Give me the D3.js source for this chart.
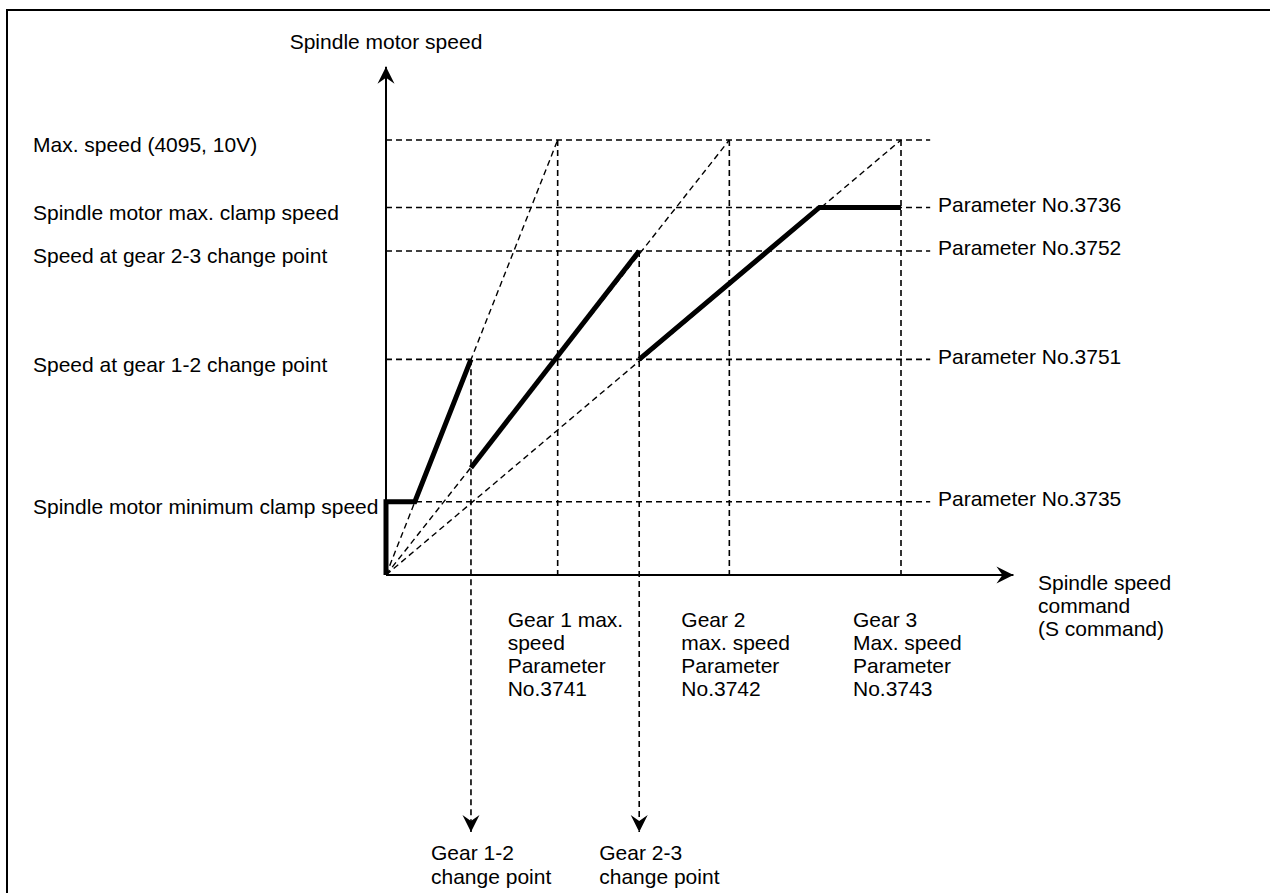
<!DOCTYPE html>
<html>
<head>
<meta charset="utf-8">
<script src="https://cdn.jsdelivr.net/npm/d3@7"></script>
<style>
  body { margin: 0; background: #fff; }
  text { font-family: "Liberation Sans", Arial, sans-serif; font-size: 21px; fill: #000; }
</style>
</head>
<body>
<div id="chart"></div>
<script>
// speed levels on the vertical axis (motor speed, 4095 = 10V)
var levelNames = ["Max. speed (4095, 10V)", "Spindle motor max. clamp speed", "Speed at gear 2-3 change point",
  "Speed at gear 1-2 change point", "Spindle motor minimum clamp speed"];
var levelValues = [4095, 3460, 3050, 2030, 690];
var levelParams = ["", "Parameter No.3736", "Parameter No.3752", "Parameter No.3751", "Parameter No.3735"];

// S command values
var gearMaxS = [1000, 2000, 3000];
var gearMaxLabels = [
  ["Gear 1 max.", "speed", "Parameter", "No.3741"],
  ["Gear 2", "max. speed", "Parameter", "No.3742"],
  ["Gear 3", "Max. speed", "Parameter", "No.3743"]
];
var changeS = [495, 1475];
var changeSpeed = [2030, 3050];
var changeLabels = [["Gear 1-2", "change point"], ["Gear 2-3", "change point"]];

// thick output curve, [S, speed]
var gear1Seg = [[0, 0], [0, 690], [168, 690], [495, 2030]];
var gear2Seg = [[495, 1010], [1475, 3050]];
var gear3Seg = [[1475, 2030], [2525, 3460], [3000, 3460]];

var sMax = 3655, speedTop = 4785, lineEndS = 3170;

var width = 1270, height = 893;

var x = d3.scaleLinear().domain([0, 3000]).range([386, 901]),
  y = d3.scaleLinear().domain([0, 4095]).range([575, 140]);

var svg = d3.select("#chart")
  .append("svg")
  .attr("width", width)
  .attr("height", height);

var defs = svg.append("defs");
defs.append("marker")
  .attr("id", "arrow")
  .attr("viewBox", "-20 -10 22 20")
  .attr("refX", 0)
  .attr("refY", 0)
  .attr("markerWidth", 22)
  .attr("markerHeight", 20)
  .attr("markerUnits", "userSpaceOnUse")
  .attr("orient", "auto")
  .append("path")
  .attr("d", "M0,0 L-17,-8.5 L-11,0 L-17,8.5 Z")
  .attr("fill", "#000");

// frame
svg.append("path")
  .attr("d", "M7,893 L7,10 L1270,10")
  .attr("fill", "none")
  .attr("stroke", "#000")
  .attr("stroke-width", 2);

var dash = "6,4";

// horizontal dashed levels
svg.selectAll(".level")
  .data(levelValues)
  .enter()
  .append("line")
  .attr("x1", x(0))
  .attr("x2", x(lineEndS))
  .attr("y1", function(d) { return y(d); })
  .attr("y2", function(d) { return y(d); })
  .attr("stroke", "#000")
  .attr("stroke-width", 1.6)
  .attr("stroke-dasharray", dash);

// gear max verticals
svg.selectAll(".gmax")
  .data(gearMaxS)
  .enter()
  .append("line")
  .attr("x1", function(d) { return x(d); })
  .attr("x2", function(d) { return x(d); })
  .attr("y1", y(4095))
  .attr("y2", y(0))
  .attr("stroke", "#000")
  .attr("stroke-width", 1.6)
  .attr("stroke-dasharray", dash);

// gear ratio dashed lines from origin
svg.selectAll(".ratio")
  .data(gearMaxS)
  .enter()
  .append("line")
  .attr("x1", x(0))
  .attr("y1", y(0))
  .attr("x2", function(d) { return x(d); })
  .attr("y2", y(4095))
  .attr("stroke", "#000")
  .attr("stroke-width", 1.4)
  .attr("stroke-dasharray", dash);

// change point verticals with arrows down
svg.selectAll(".chg")
  .data(changeS)
  .enter()
  .append("line")
  .attr("x1", function(d) { return x(d); })
  .attr("x2", function(d) { return x(d); })
  .attr("y1", function(d, i) { return y(changeSpeed[i]); })
  .attr("y2", 832)
  .attr("stroke", "#000")
  .attr("stroke-width", 1.6)
  .attr("stroke-dasharray", dash)
  .attr("marker-end", "url(#arrow)");

// axes
svg.append("line")
  .attr("x1", x(0)).attr("y1", y(0))
  .attr("x2", x(0)).attr("y2", y(speedTop))
  .attr("stroke", "#000")
  .attr("stroke-width", 2)
  .attr("marker-end", "url(#arrow)");

svg.append("line")
  .attr("x1", x(0)).attr("y1", y(0))
  .attr("x2", x(sMax)).attr("y2", y(0))
  .attr("stroke", "#000")
  .attr("stroke-width", 2)
  .attr("marker-end", "url(#arrow)");

// thick speed curve
var line = d3.line()
  .x(function(d) { return x(d[0]); })
  .y(function(d) { return y(d[1]); });

svg.selectAll(".seg")
  .data([gear1Seg, gear2Seg, gear3Seg])
  .enter()
  .append("path")
  .attr("d", line)
  .attr("fill", "none")
  .attr("stroke", "#000")
  .attr("stroke-width", 5)
  .attr("stroke-linejoin", "miter");

// left labels
svg.selectAll(".lname")
  .data(levelNames)
  .enter()
  .append("text")
  .attr("x", 33)
  .attr("y", function(d, i) { return y(levelValues[i]) + 5; })
  .attr("dy", "0.35em")
  .text(function(d) { return d; });

// right labels
svg.selectAll(".lparam")
  .data(levelParams)
  .enter()
  .append("text")
  .attr("x", 938)
  .attr("y", function(d, i) { return y(levelValues[i]) - 3; })
  .attr("dy", "0.35em")
  .text(function(d) { return d; });

// axis titles
svg.append("text")
  .attr("x", x(0))
  .attr("y", 42)
  .attr("dy", "0.35em")
  .attr("text-anchor", "middle")
  .text("Spindle motor speed");

var sTitle = svg.append("text")
  .attr("x", 1038)
  .attr("y", 583)
  .attr("dy", "0.35em");
["Spindle speed", "command", "(S command)"].forEach(function(t, i) {
  sTitle.append("tspan").attr("x", 1038).attr("dy", i === 0 ? "0.35em" : 23).text(t);
});

// gear max labels under the axis
var gxOff = [-50, -48, -48];
gearMaxLabels.forEach(function(lines, g) {
  var t = svg.append("text").attr("x", x(gearMaxS[g]) + gxOff[g]).attr("y", 620);
  lines.forEach(function(s, i) {
    t.append("tspan").attr("x", x(gearMaxS[g]) + gxOff[g]).attr("dy", i === 0 ? "0.35em" : 23).text(s);
  });
});

// change point labels at bottom
changeLabels.forEach(function(lines, c) {
  var t = svg.append("text").attr("x", x(changeS[c]) - 40).attr("y", 853);
  lines.forEach(function(s, i) {
    t.append("tspan").attr("x", x(changeS[c]) - 40).attr("dy", i === 0 ? "0.35em" : 24).text(s);
  });
});
</script>
</body>
</html>
